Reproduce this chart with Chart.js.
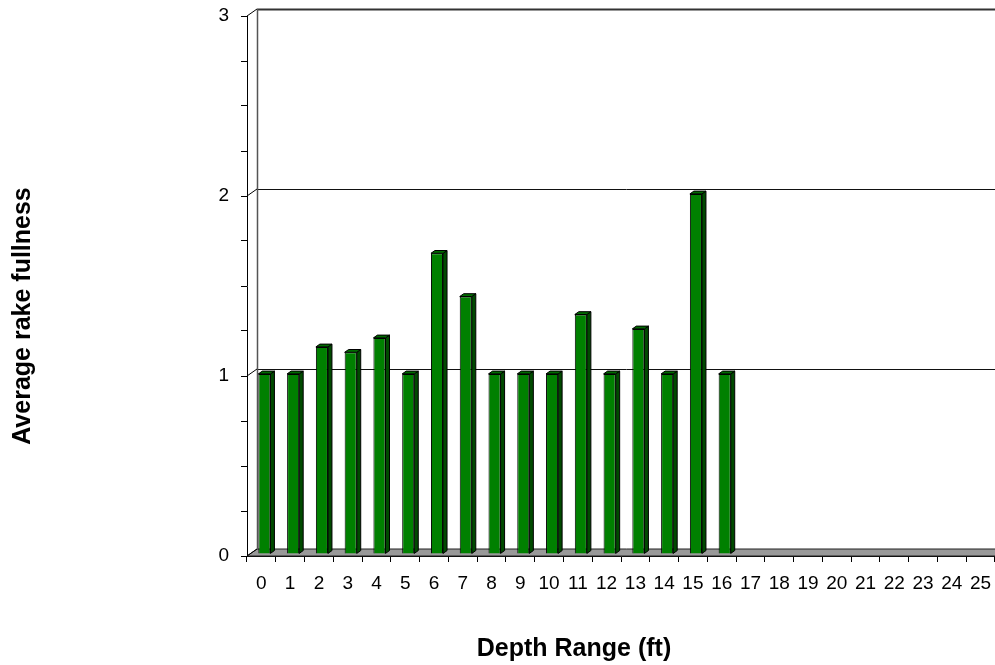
<!DOCTYPE html>
<html>
<head>
<meta charset="utf-8">
<title>Average rake fullness by depth</title>
<script src="https://cdn.jsdelivr.net/npm/chart.js@4.4.1/dist/chart.umd.min.js"></script>
<style>
  html, body { margin: 0; padding: 0; background: #ffffff; }
  #wrap { width: 995px; height: 665px; }
</style>
</head>
<body>
<div id="wrap"><canvas id="chart" width="995" height="665"></canvas></div>
<script>
// Depth bins (ft) along the x axis
const depthLabels = ['0', '1', '2', '3', '4', '5', '6', '7', '8', '9', '10', '11', '12',
  '13', '14', '15', '16', '17', '18', '19', '20', '21', '22', '23', '24', '25'];

// Average rake fullness per depth bin (no samples beyond 16 ft)
const rakeFullness = [1, 1, 1.15, 1.12, 1.2, 1, 1.67, 1.43, 1, 1, 1, 1.33, 1, 1.25, 1, 2, 1,
  null, null, null, null, null, null, null, null, null];

// Axis titles
const yTitle = 'Average rake fullness';
const xTitle = 'Depth Range (ft)';

// Pseudo-3D geometry: offset of the back wall and of the bar faces
const WALL_DX = 10, WALL_DY = 7;
const BAR_FRONT = 0.3;   // front face sits this far into the depth
const BAR_DEPTH = 0.4;   // thickness of each bar along the depth
const FONT = '"Liberation Sans", Arial, Helvetica, sans-serif';

const depthPlugin = {
  id: 'depth3d',
  afterDatasetsUpdate(chart) {
    const meta = chart.getDatasetMeta(0);
    const sx = WALL_DX * BAR_FRONT, sy = WALL_DY * BAR_FRONT;
    meta.data.forEach((el, i) => {
      if (rakeFullness[i] == null) return;
      el.x += sx; el.y -= sy; el.base -= sy;
    });
  },
  beforeDatasetsDraw(chart) {
    const { ctx, chartArea: a, scales } = chart;
    const ys = scales.y;
    ctx.save();
    // floor
    ctx.beginPath();
    ctx.moveTo(a.left, a.bottom);
    ctx.lineTo(a.left + WALL_DX, a.bottom - WALL_DY);
    ctx.lineTo(a.right + WALL_DX, a.bottom - WALL_DY);
    ctx.lineTo(a.right, a.bottom);
    ctx.closePath();
    ctx.fillStyle = '#999999';
    ctx.fill();
    ctx.lineWidth = 1;
    ctx.strokeStyle = '#222222';
    ctx.stroke();
    // back wall gridlines
    [1, 2, 3].forEach(v => {
      const yy = Math.round(ys.getPixelForValue(v) - WALL_DY) + 0.5;
      ctx.beginPath();
      ctx.moveTo(a.left + WALL_DX, yy);
      ctx.lineTo(a.right + WALL_DX, yy);
      ctx.lineWidth = v === 3 ? 2 : 1;
      ctx.strokeStyle = v === 3 ? '#333333' : '#111111';
      ctx.stroke();
    });
    // back wall left edge
    const wx = Math.round(a.left + WALL_DX) + 0.5;
    ctx.beginPath();
    ctx.moveTo(wx, ys.getPixelForValue(3) - WALL_DY);
    ctx.lineTo(wx, a.bottom - WALL_DY);
    ctx.lineWidth = 1.5;
    ctx.strokeStyle = '#555555';
    ctx.stroke();
    // side-wall diagonals at the major ticks
    ctx.lineWidth = 1;
    ctx.strokeStyle = '#000000';
    [0, 1, 2, 3].forEach(v => {
      const yy = ys.getPixelForValue(v);
      ctx.beginPath();
      ctx.moveTo(a.left, yy);
      ctx.lineTo(a.left + WALL_DX, yy - WALL_DY);
      ctx.stroke();
    });
    ctx.restore();
  },
  afterDatasetsDraw(chart) {
    const { ctx } = chart;
    const meta = chart.getDatasetMeta(0);
    const bx = WALL_DX * BAR_DEPTH, by = WALL_DY * BAR_DEPTH;
    ctx.save();
    ctx.lineWidth = 1;
    ctx.strokeStyle = '#000000';
    ctx.lineJoin = 'round';
    meta.data.forEach((el, i) => {
      if (rakeFullness[i] == null) return;
      const { x, y, base, width } = el.getProps(['x', 'y', 'base', 'width'], true);
      const l = x - width / 2, r = x + width / 2;
      // side face
      ctx.beginPath();
      ctx.moveTo(r, y);
      ctx.lineTo(r + bx, y - by);
      ctx.lineTo(r + bx, base - by);
      ctx.lineTo(r, base);
      ctx.closePath();
      ctx.fillStyle = '#004a00';
      ctx.fill();
      ctx.stroke();
      // top face
      ctx.beginPath();
      ctx.moveTo(l, y);
      ctx.lineTo(l + bx, y - by);
      ctx.lineTo(r + bx, y - by);
      ctx.lineTo(r, y);
      ctx.closePath();
      ctx.fillStyle = '#006a00';
      ctx.fill();
      ctx.stroke();
    });
    ctx.restore();
  },
  afterDraw(chart) {
    const { ctx } = chart;
    ctx.save();
    ctx.fillStyle = '#000000';
    ctx.font = 'bold 25px ' + FONT;
    ctx.textAlign = 'center';
    ctx.textBaseline = 'middle';
    ctx.fillText(xTitle, 574, 649);
    ctx.translate(23, 316);
    ctx.rotate(-Math.PI / 2);
    ctx.fillText(yTitle, 0, 0);
    ctx.restore();
  }
};

new Chart(document.getElementById('chart'), {
  type: 'bar',
  data: {
    labels: depthLabels,
    datasets: [{
      data: rakeFullness,
      backgroundColor: '#008000',
      borderColor: '#000000',
      borderWidth: 1,
      categoryPercentage: 1,
      barPercentage: 0.42
    }]
  },
  options: {
    responsive: false,
    animation: false,
    events: [],
    devicePixelRatio: 1,
    layout: { padding: { top: 16, right: 0, bottom: 0, left: 0 } },
    plugins: { legend: { display: false }, tooltip: { enabled: false } },
    scales: {
      x: {
        type: 'category',
        offset: true,
        grid: { display: true, offset: true, drawOnChartArea: false, drawTicks: true, tickLength: 6, color: '#000000' },
        border: { display: true, color: '#000000' },
        ticks: { color: '#000000', font: { family: FONT, size: 19 }, padding: 10, maxRotation: 0, autoSkip: false },
        afterFit(s) { s.height = 109; s.paddingLeft = 0; s.paddingRight = 0; }
      },
      y: {
        min: 0,
        max: 3,
        grid: { display: true, drawOnChartArea: false, drawTicks: true, tickLength: 6, color: '#000000' },
        border: { display: true, color: '#000000' },
        ticks: {
          stepSize: 0.25,
          color: '#000000',
          font: { family: FONT, size: 19 },
          padding: 12,
          callback: v => Number.isInteger(v) ? String(v) : ''
        },
        afterFit(s) { s.width = 247; s.paddingTop = 0; s.paddingBottom = 0; }
      }
    }
  },
  plugins: [depthPlugin]
});
</script>
</body>
</html>
